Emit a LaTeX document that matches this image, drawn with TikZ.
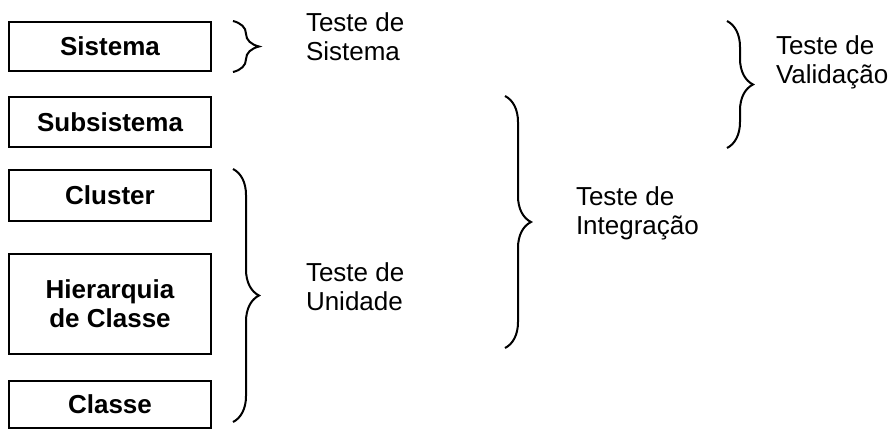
\documentclass[tikz,border=0pt]{standalone}
\usepackage{fontspec}
\setmainfont{Liberation Sans}
\usepackage{tikz}
\usetikzlibrary{decorations.pathreplacing}

\begin{document}
\begin{tikzpicture}[x=0.5pt, y=-0.5pt, line width=1pt,
    level/.style={draw, minimum width=101pt, inner sep=0pt, align=center,
                  font=\fontsize{13}{14.5}\selectfont\bfseries},
    tbrace/.style={decorate, decoration={brace, amplitude=13pt}},
    tlabel/.style={anchor=west, align=left, inner sep=0pt,
                   font=\fontsize{13}{14.5}\selectfont}]
            \useasboundingbox (0,0) rectangle (895,430);

            % Levels
            \node[level, minimum height=24.5pt] (sis) at (110,46.5) {Sistema};
            \node[level, minimum height=25pt] (sub) at (110,122) {Subsistema};
            \node[level, minimum height=25.5pt] (clu) at (110,195.5) {Cluster};
            \node[level, minimum height=50pt] (hie) at (110,304) {Hierarquia\\de Classe};
            \node[level, minimum height=23.5pt] (cls) at (110,404.5) {Classe};

            % Brace columns
            \coordinate (colA) at (233,0);
            \coordinate (colB) at (505,0);
            \coordinate (colC) at (727,0);

            % Braces
            \draw[tbrace] (colA |- sis.north) -- (colA |- sis.south);
            \draw[tbrace] (colA |- clu.north) -- ([yshift=3.5pt]colA |- cls.south);
            \draw[tbrace] (colB |- sub.north) -- ([yshift=3.5pt]colB |- hie.south);
            \draw[tbrace] (colC |- sis.north) -- (colC |- sub.south);

            % Labels
            \node[tlabel] (tsis) at (305,37) {Teste de\\Sistema};
            \node[tlabel] (tuni) at (305,287) {Teste de\\Unidade};
            \node[tlabel] (tint) at (575,213) {Teste de\\Integração};
            \node[tlabel] (tval) at (775,62) {Teste de\\Validação};
        \end{tikzpicture}
\end{document}
